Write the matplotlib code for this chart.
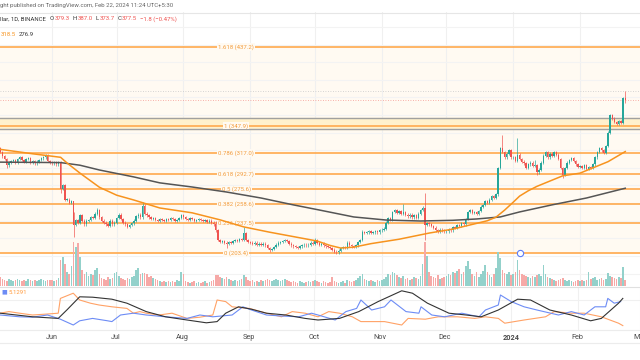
import pandas as pd
import matplotlib
matplotlib.use("Agg")
import matplotlib.pyplot as plt
from matplotlib.lines import Line2D

# ---- data (daily candles, day 0 = 2023-05-08) ----
start = pd.Timestamp("2023-05-08")

closes = (
    [318, 313, 310, 303, 306, 308, 309, 306, 310, 312, 309, 307, 310, 311, 306, 308, 305, 307, 309, 311, 312, 314, 308, 306]
    + [305, 306, 304, 306, 276, 280, 264, 264, 260, 262, 235, 241, 238, 246, 240, 236, 240, 241, 244, 243, 248, 252, 244, 240, 238, 236, 234, 240, 236, 238]
    + [243, 247, 242, 238, 236, 233, 235, 237, 240, 245, 247, 244, 257, 248, 246, 244, 242, 243, 241, 240, 242, 241, 240, 242, 241, 243, 242, 240, 241, 243, 246]
    + [244, 242, 241, 243, 242, 240, 241, 242, 241, 240, 241, 239, 240, 238, 236, 229, 218, 216, 217, 215, 214, 216, 215, 217, 218, 217, 219, 218, 226, 218, 216]
    + [215, 214, 215, 213, 214, 213, 214, 212, 209, 207, 208, 210, 213, 215, 216, 217, 218, 217, 214, 212, 211, 210, 209, 211, 212, 213, 212, 213, 215, 214]
    + [218, 215, 213, 214, 212, 211, 210, 209, 207, 205, 204, 206, 209, 210, 209, 215, 212, 211, 210, 212, 216, 218, 227, 226, 227, 228, 226, 227, 228, 227, 229]
    + [230, 231, 238, 243, 241, 250, 252, 249, 251, 248, 250, 247, 245, 247, 244, 246, 243, 248, 252, 254, 235, 237, 236, 234, 232, 229, 228, 230, 229, 228]
    + [228, 230, 229, 233, 232, 235, 234, 237, 236, 242, 250, 252, 249, 250, 248, 251, 256, 258, 262, 260, 264, 268, 266, 270, 300, 322, 318, 312, 316, 320, 312]
    + [312, 308, 315, 310, 307, 305, 300, 304, 306, 302, 303, 295, 298, 306, 314, 318, 312, 316, 314, 318, 315, 310, 300, 292, 300, 306, 309, 311, 308, 304, 301]
    + [302, 300, 303, 299, 301, 300, 304, 312, 318, 322, 320, 317, 325, 340, 360, 356, 352, 350, 353, 351, 379.3, 377.5]
)

volumes = (
    [9, 7, 6, 5, 7, 6, 5, 6, 7, 6, 5, 6, 5, 7, 6, 5, 6, 5, 6, 7, 6, 5, 6, 6]
    + [6, 5, 6, 8, 26, 29, 22, 14, 12, 20, 44, 39, 43, 29, 16, 12, 14, 10, 12, 11, 16, 18, 12, 8, 7, 6, 9, 7, 8, 13]
    + [14, 10, 8, 7, 6, 8, 7, 9, 10, 16, 18, 12, 13, 13, 12, 9, 10, 8, 7, 6, 5, 4, 5, 4, 5, 4, 5, 4, 6, 5, 14]
    + [12, 5, 4, 3, 4, 5, 3, 4, 3, 4, 5, 3, 4, 5, 6, 11, 11, 9, 8, 7, 9, 7, 6, 5, 6, 5, 6, 7, 11, 9, 6]
    + [5, 6, 4, 5, 4, 6, 5, 6, 7, 6, 5, 6, 7, 6, 5, 6, 7, 6, 5, 4, 5, 4, 3, 5, 4, 3, 4, 5, 4, 5]
    + [6, 5, 4, 3, 5, 4, 3, 4, 9, 5, 4, 3, 4, 5, 3, 6, 5, 4, 5, 6, 8, 10, 12, 7, 6, 5, 6, 5, 4, 6, 5]
    + [6, 7, 9, 12, 11, 14, 13, 11, 9, 8, 10, 7, 8, 6, 7, 9, 8, 7, 10, 22, 44, 30, 14, 10, 9, 8, 11, 7, 8, 9]
    + [10, 12, 11, 14, 13, 15, 17, 12, 14, 20, 25, 17, 12, 10, 14, 9, 12, 15, 21, 14, 11, 9, 12, 18, 34, 28, 16, 13, 12, 14, 11]
    + [12, 14, 26, 16, 12, 11, 10, 9, 8, 10, 9, 11, 12, 10, 21, 12, 9, 8, 7, 6, 5, 6, 7, 8, 6, 5, 6, 5, 4, 5, 6]
    + [5, 6, 5, 6, 14, 7, 8, 9, 6, 7, 8, 6, 7, 13, 10, 9, 8, 7, 9, 8, 19, 6]
)

first_open = 322
# notable wicks
wick_high = {0: 324, 34: 250, 45: 254, 66: 261, 100: 240, 113: 233, 146: 220, 168: 230,
             187: 259, 196: 257, 197: 272, 233: 337, 240: 334, 248: 309, 290: 387.0}
wick_low = {3: 300, 28: 272, 34: 222, 105: 209, 125: 205, 197: 218, 249: 292, 261: 288, 290: 373.7}

# moving averages (sampled along the chart)
ma_fast_days = [0, 15, 28, 31, 37, 46, 54, 62, 74, 89, 102, 113, 125, 136, 147, 153, 158, 164, 172, 185,
                199, 210, 221, 226, 230, 234, 238, 241, 245, 249, 256, 261, 269, 275, 282, 290]
ma_fast = [321, 316, 312, 305.5, 294, 278, 269, 263.5, 254.5, 249, 241, 233, 227, 222, 217, 212, 209, 210, 214, 219,
           226, 230.5, 237, 240, 244, 252, 261, 268, 274, 279, 286, 291, 294, 300, 307, 318.5]
ma_slow_days = [0, 28, 37, 46, 62, 74, 89, 105, 121, 136, 148, 164, 179, 195, 210, 221, 232, 241, 256, 272, 290]
ma_slow = [306.5, 306, 303, 297.6, 289.7, 283, 278.3, 272.6, 265.8, 258, 252.2, 244.3, 240.8, 239.7, 240.5, 242,
           244.3, 250, 258, 265.8, 276.9]

# fibonacci retracement
fib_ratios = ["0", "0.236", "0.382", "0.5", "0.618", "0.786", "1", "1.618"]
fib_prices = [203.4, 237.5, 258.6, 275.6, 292.7, 317.0, 347.9, 437.2]
box_low, box_high = 344.1, 356.6

# lower indicator pane (three lines)
ind_orange_days = [0, 4, 9, 15, 22, 27, 28, 34, 37, 42, 46, 52, 59, 62, 65, 68, 74, 80, 87, 93, 99, 101, 105, 108,
                   116, 124, 131, 136, 142, 148, 153, 158, 164, 168, 179, 187, 190, 198, 204, 213, 221, 226, 232,
                   235, 244, 254, 258, 266, 272, 280, 288, 290]
ind_orange = [4.2, 4.6, 4.2, 3.75, 4.0, 4.2, 7.9, 9.2, 7.5, 6.7, 6.25, 5.8, 5.4, 4.2, 4.6, 4.2, 3.75, 4.2, 2.9, 3.2,
              3.75, 7.5, 7.1, 5.8, 5.4, 4.2, 3.3, 4.6, 4.2, 3.3, 4.6, 4.2, 3.3, 2.1, 2.1, 1.25, 2.9, 2.7, 3.3, 3.3,
              2.9, 3.3, 2.9, 1.7, 2.5, 3.3, 4.6, 4.2, 4.2, 3.3, 1.7, 1.1]
ind_blue_days = [0, 9, 15, 22, 28, 34, 37, 43, 50, 52, 56, 62, 68, 77, 87, 93, 99, 108, 113, 117, 124, 131, 139,
                 145, 148, 156, 161, 166, 168, 173, 179, 182, 189, 195, 196, 201, 207, 215, 223, 226, 232, 233,
                 238, 244, 250, 260, 266, 272, 277, 282, 283, 286, 289]
ind_blue = [3.75, 3.3, 3.2, 3.75, 2.7, 1.25, 2.3, 2.9, 2.3, 2.1, 3.75, 4.2, 3.75, 3.3, 2.9, 3.75, 3.3, 3.75, 5.8, 5.0,
            3.75, 3.5, 3.3, 4.2, 3.75, 2.5, 4.6, 5.4, 7.5, 5.0, 5.8, 7.5, 4.6, 4.2, 5.8, 3.75, 3.3, 4.2, 3.3, 5.0,
            6.25, 8.75, 7.1, 5.8, 5.0, 3.75, 4.6, 3.75, 5.8, 5.8, 7.9, 6.7, 7.1]
ind_black_days = [0, 15, 27, 31, 37, 43, 52, 59, 68, 77, 87, 96, 101, 105, 111, 117, 124, 133, 142, 148, 158, 167,
                  176, 187, 192, 199, 209, 217, 224, 232, 241, 247, 256, 266, 275, 280, 288, 290]
ind_black = [4.2, 3.3, 2.9, 5.0, 8.3, 8.2, 7.7, 6.7, 4.6, 3.3, 2.5, 1.8, 2.1, 4.2, 5.8, 5.2, 4.2, 3.75, 2.9, 2.5, 2.9,
             4.6, 7.1, 9.8, 9.2, 6.7, 4.2, 3.75, 3.3, 5.0, 7.7, 7.5, 5.0, 3.75, 2.3, 2.9, 6.7, 7.9]

month_names = ["Jun", "Jul", "Aug", "Sep", "Oct", "Nov", "Dec", "2024", "Feb", "Mar"]
month_dates = ["2023-06-01", "2023-07-01", "2023-08-01", "2023-09-01", "2023-10-01", "2023-11-01",
               "2023-12-01", "2024-01-01", "2024-02-01", "2024-03-01"]

# ---- styling ----
UP, DOWN = "#26a69a", "#ef5350"
FIB = "#ffa94d"
FILL = "#fffaf2"
W, H = 640, 360
font = ["Roboto", "DejaVu Sans"]
plt.rcParams["font.family"] = font

days = list(range(len(closes)))
opens = [first_open] + closes[:-1]
month_days = [(pd.Timestamp(d) - start).days for d in month_dates]
xmin, xmax = -0.13, 296.85


def pane(y_top, y_bottom):
    ax = fig.add_axes([0, (H - y_bottom) / H, 1, (y_bottom - y_top) / H])
    ax.set_xlim(xmin, xmax)
    for s in ax.spines.values():
        s.set_visible(False)
    ax.set_xticks([])
    ax.set_yticks([])
    return ax


fig = plt.figure(figsize=(W / 100, H / 100), dpi=100)
renderer = fig.canvas.get_renderer()


def text_row(x_px, y_px, parts, size=4.3):
    """Write pieces of text one after another on a line, in pixels."""
    for s, col, gap in parts:
        t = fig.text(x_px / W, 1 - y_px / H, s, fontsize=size, color=col, va="center")
        x_px += t.get_window_extent(renderer).width + gap


# main price pane
ax = pane(12, 287)
ax.set_ylim(164.8, 476.9)
ax.axhspan(fib_prices[0], fib_prices[-1], color=FILL, zorder=0)
for d in month_days:
    ax.axvline(d, color="#f0f0f0", lw=0.8, zorder=0.5)
for p in range(180, 480, 20):
    ax.axhline(p, color="#f3f3f3", lw=0.8, zorder=0.5)

ax.axhspan(box_low, box_high, color="#fff1cc", zorder=1)
ax.axhline(box_low, color="#a0a0a0", lw=1, zorder=1.5)
ax.axhline(box_high, color="#a0a0a0", lw=1, zorder=1.5)

for r, p in zip(fib_ratios, fib_prices):
    ax.axhline(p, color=FIB, lw=1.2, zorder=2)
    ax.text(109.5, p, f"{r} ({p:.1f})", color="#f39c3c", fontsize=4.3, ha="center", va="center", zorder=2.5,
            bbox=dict(facecolor=FILL, edgecolor="none", pad=0.6))

# last price / high lines
ax.axhline(wick_high[290], color="#c8c8c8", lw=0.6, ls=(0, (1, 2)), zorder=2)
ax.axhline(closes[-1], color=DOWN, lw=0.6, ls=(0, (1, 2)), alpha=0.6, zorder=2)

# volume overlay
vax = fig.add_axes(ax.get_position(), sharex=ax)
vax.set_ylim(-1.3, 273.7)
vax.patch.set_visible(False)
vax.axis("off")
vcol = ["#93d1cb" if c >= o else "#f6a9a7" for o, c in zip(opens, closes)]
vax.bar(days, volumes, width=0.75, color=vcol, zorder=1)

# candles
for i, (o, c) in enumerate(zip(opens, closes)):
    col = UP if c >= o else DOWN
    hi = wick_high.get(i, max(o, c) + 1.5)
    lo = wick_low.get(i, min(o, c) - 1.5)
    ax.vlines(i, lo, hi, color=col, lw=0.6, alpha=0.8, zorder=3)
    ax.bar(i, max(abs(c - o), 0.8), bottom=min(o, c), width=0.65, color=col, zorder=3.5)

ax.plot(ma_slow_days, ma_slow, color="#555555", lw=1.1, zorder=4)
ax.plot(ma_fast_days, ma_fast, color="#f7931e", lw=1.1, zorder=4)
ax.plot(241, fib_prices[0], "o", mfc="white", mec="#5b7cfa", ms=4.5, mew=0.8, zorder=6)

# indicator pane
ia = pane(287, 330)
ia.set_ylim(0, 10.75)
for d in month_days:
    ia.axvline(d, color="#f0f0f0", lw=0.8, zorder=0)
ia.axhline(7.5, color="#f0f0f0", lw=0.8, zorder=0)
ia.plot(ind_orange_days, ind_orange, color="#ffa266", lw=0.8)
ia.plot(ind_blue_days, ind_blue, color="#6d8cf5", lw=0.8)
ia.plot(ind_black_days, ind_black, color="#333333", lw=0.8)
ia.set_xticks(month_days)
ia.set_xticklabels(month_names, fontsize=5.2, color="#4a4a4a")
ia.tick_params(axis="x", length=0, pad=3)
ia.get_xticklabels()[7].set_fontweight("bold")

# separators
for y, c in [(12.5, "#e6e6e6"), (287, "#e0e0e0"), (330, "#ececec"), (343, "#ececec")]:
    fig.add_artist(Line2D([0, 1], [1 - y / H, 1 - y / H], color=c, lw=0.8, transform=fig.transFigure))

# header texts
text_row(0, 6, [("ght published on TradingView.com, Feb 22, 2024 11:24 UTC+5:30", "#666666", 0)])
text_row(0, 19, [("llar, 1D, BINANCE", "#333333", 4),
                 ("O", "#333333", 0.6), ("379.3", DOWN, 3),
                 ("H", "#333333", 0.6), ("387.0", DOWN, 3),
                 ("L", "#333333", 0.6), ("373.7", DOWN, 3),
                 ("C", "#333333", 0.6), ("377.5", DOWN, 3),
                 ("\u22121.8 (\u22120.47%)", DOWN, 0)])
text_row(1, 35, [("318.5", "#f7931e", 3), ("276.9", "#333333", 0)])
text_row(1, 292, [("\u25a0", "#6d8cf5", 2), ("5.1291", "#ff9a3c", 0)], size=4.3)

fig.savefig("out.png", dpi=100, facecolor="white")
